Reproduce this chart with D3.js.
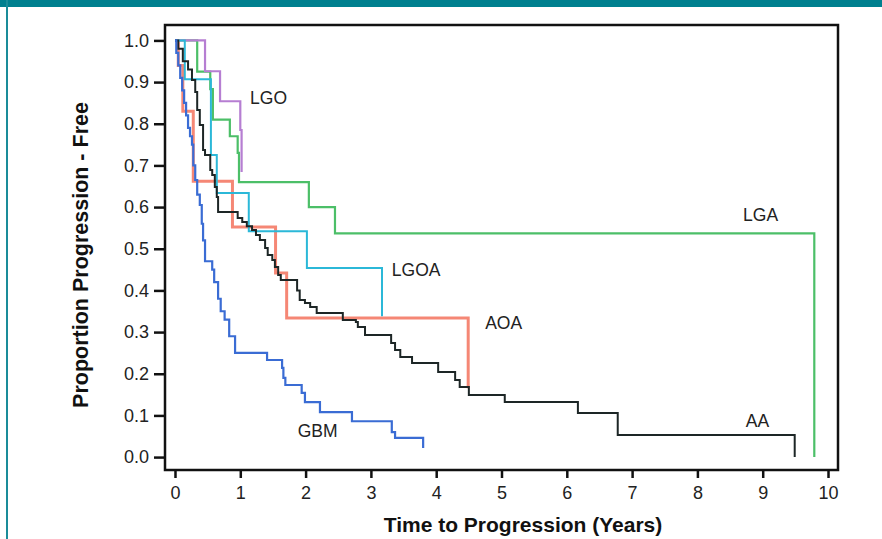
<!DOCTYPE html>
<html>
<head>
<meta charset="utf-8">
<script src="https://cdn.jsdelivr.net/npm/d3@7"></script>
<style>
  html, body { margin: 0; padding: 0; background: #fff; }
  svg { display: block; }
  text { font-family: "Liberation Sans", Arial, Helvetica, sans-serif; }
</style>
</head>
<body>
<svg id="chart" width="882" height="539"></svg>
<script>
// ---- data ----
const xTicks = [0,1,2,3,4,5,6,7,8,9,10];
const yTicks = [0,0.1,0.2,0.3,0.4,0.5,0.6,0.7,0.8,0.9,1.0];

const seriesNames = ["AOA","LGA","LGO","LGOA","AA","GBM"];

const aoaTime  = [0.05,0.12,0.28,0.88,1.54,1.71,4.49];
const aoaValue = [0.94,0.83,0.662,0.552,0.442,0.334,0.165];

const lgaTime  = [0.34,0.54,0.58,0.84,0.96,0.98,2.05,2.45,9.79];
const lgaValue = [0.925,0.883,0.81,0.77,0.73,0.66,0.60,0.537,0];

const lgoTime  = [0.46,0.69,1.00,1.02];
const lgoValue = [0.926,0.854,0.785,0.684];

const lgoaTime  = [0.15,0.55,0.64,1.13,2.02,3.17];
const lgoaValue = [0.907,0.725,0.634,0.542,0.454,0.338];

const aaTime  = [0.05,0.12,0.20,0.26,0.31,0.34,0.38,0.43,0.46,0.54,0.57,0.61,0.64,0.66,0.96,1.03,1.10,1.18,1.24,1.30,1.38,1.42,1.49,1.53,1.58,1.62,1.87,1.91,1.99,2.07,2.17,2.57,2.77,2.80,2.91,3.31,3.37,3.45,3.63,4.03,4.29,4.36,4.50,5.05,6.17,6.78,9.49];
const aaValue = [0.98,0.95,0.93,0.905,0.876,0.833,0.797,0.737,0.725,0.689,0.677,0.648,0.624,0.588,0.574,0.564,0.554,0.545,0.533,0.521,0.502,0.485,0.473,0.456,0.437,0.425,0.40,0.377,0.37,0.36,0.346,0.329,0.324,0.312,0.293,0.274,0.257,0.24,0.226,0.204,0.185,0.168,0.149,0.132,0.106,0.053,0];

const gbmTime  = [0.02,0.05,0.08,0.11,0.14,0.17,0.20,0.23,0.26,0.28,0.31,0.34,0.38,0.41,0.43,0.46,0.57,0.60,0.66,0.70,0.76,0.83,0.92,1.41,1.64,1.66,1.69,1.94,1.99,2.22,2.71,3.32,3.37,3.80];
const gbmValue = [0.97,0.94,0.91,0.88,0.85,0.82,0.79,0.77,0.75,0.70,0.665,0.63,0.605,0.56,0.52,0.47,0.45,0.42,0.38,0.35,0.33,0.29,0.25,0.233,0.214,0.19,0.173,0.154,0.132,0.108,0.086,0.06,0.046,0.022];

// label anchor points (data coordinates)
const labelTime  = {LGO:1.15, LGA:8.70, LGOA:3.32, AOA:4.75, AA:8.74, GBM:1.88};
const labelValue = {LGO:0.862, LGA:0.581, LGOA:0.449, AOA:0.322, AA:0.086, GBM:0.062};

// ---- styles ----
const seriesData = {
  AOA: [aoaTime, aoaValue], LGA: [lgaTime, lgaValue], LGO: [lgoTime, lgoValue],
  LGOA: [lgoaTime, lgoaValue], AA: [aaTime, aaValue], GBM: [gbmTime, gbmValue]
};
const color = {AOA:"#f47a66", LGA:"#4cbf68", LGO:"#b67ed2", LGOA:"#2bb8d8", AA:"#1d2626", GBM:"#3a6cd4"};
const width = {AOA:3, LGA:2.2, LGO:2.2, LGOA:2, AA:2, GBM:2.2};

const svg = d3.select("#chart");

// frame decoration (teal page border)
svg.append("rect").attr("x",0).attr("y",0).attr("width",882).attr("height",7).attr("fill","#00808f");
svg.append("rect").attr("x",6).attr("y",0).attr("width",2).attr("height",539).attr("fill","#1a8c99");

const x = d3.scaleLinear().domain([-0.153, 10.153]).range([165, 838]);
const y = d3.scaleLinear().domain([-0.031, 1.037]).range([470, 25]);

// axes
const xAxis = d3.axisBottom(x).tickValues(xTicks).tickFormat(d3.format("d")).tickSize(8).tickPadding(8);
const yAxis = d3.axisLeft(y).tickValues(yTicks).tickFormat(d3.format(".1f")).tickSize(11).tickPadding(5);

const gx = svg.append("g").attr("transform", `translate(0,${y.range()[0]})`).call(xAxis);
const gy = svg.append("g").attr("transform", `translate(${x.range()[0]},0)`).call(yAxis);
[gx, gy].forEach(g => {
  g.select(".domain").remove();
  g.selectAll(".tick line").attr("stroke","#111").attr("stroke-width",2.5);
  g.selectAll(".tick text").attr("fill","#222").style("font-size","18px");
});

// curves
const line = d3.line().x(d => x(d[0])).y(d => y(d[1])).curve(d3.curveStepAfter);
seriesNames.forEach(name => {
  const [ts, vs] = seriesData[name];
  const pts = [[0,1]].concat(ts.map((t,i) => [t, vs[i]]));
  svg.append("path")
    .attr("d", line(pts))
    .attr("fill","none")
    .attr("stroke", color[name])
    .attr("stroke-width", width[name])
    .attr("stroke-opacity", name === "AOA" ? 0.9 : 1)
    .attr("stroke-linejoin","miter");
});

// plot frame
svg.append("rect")
  .attr("x", x.range()[0]).attr("y", y.range()[1])
  .attr("width", x.range()[1]-x.range()[0]).attr("height", y.range()[0]-y.range()[1])
  .attr("fill","none").attr("stroke","#111").attr("stroke-width",2.5);

// series labels
seriesNames.forEach(name => {
  svg.append("text")
    .attr("x", x(labelTime[name])).attr("y", y(labelValue[name]))
    .attr("dy","0.35em")
    .attr("fill","#222")
    .style("font-size","17.5px")
    .text(name);
});

// axis titles
svg.append("text")
  .attr("x", 523).attr("y", 532)
  .attr("text-anchor","middle")
  .style("font-size","21px").style("font-weight","bold").attr("fill","#111")
  .text("Time to Progression (Years)");
svg.append("text")
  .attr("transform","translate(88,255) rotate(-90)")
  .attr("text-anchor","middle")
  .style("font-size","21.5px").style("font-weight","bold").attr("fill","#111")
  .text("Proportion Progression - Free");
</script>
</body>
</html>
